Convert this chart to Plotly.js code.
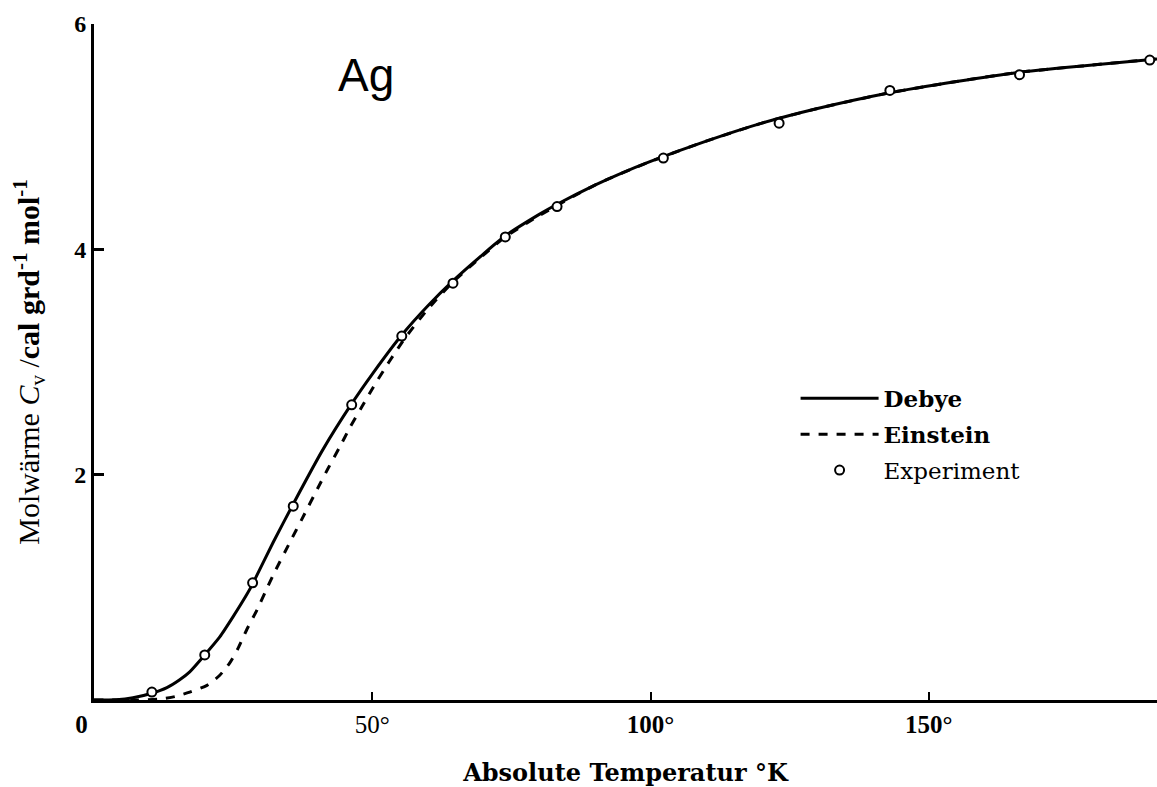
<!DOCTYPE html>
<html>
<head>
<meta charset="utf-8">
<script src="https://cdn.plot.ly/plotly-3.0.1.min.js"></script>
<style>html,body{margin:0;padding:0;background:#fff;}#chart{width:1157px;height:787px;}</style>
</head>
<body>
<div id="chart"></div>
<script>
// Debye curve
const debyeT = [0, 4, 7, 10.4, 13.1, 15.4, 17.2, 19.9, 22.6, 25.0, 27.5, 28.6, 32.2, 35.8, 41.1, 46.3, 50.1, 55.3, 60, 64.5, 70, 73.9, 80, 83.2, 90, 94.5, 100, 110, 120, 130, 143, 155, 166, 178, 191];
const debyeCv = [0, 0.003, 0.02, 0.06, 0.11, 0.18, 0.25, 0.40, 0.56, 0.74, 0.94, 1.04, 1.40, 1.74, 2.22, 2.63, 2.90, 3.24, 3.50, 3.72, 3.96, 4.12, 4.31, 4.40, 4.57, 4.67, 4.78, 4.96, 5.12, 5.25, 5.39, 5.49, 5.57, 5.63, 5.69];
// Einstein curve
const einsteinT = [0, 8, 12, 14.5, 17.2, 20.3, 22.6, 24.4, 25.9, 27.5, 29.3, 30.7, 32.2, 35.2, 37.4, 40.2, 42.0, 44.2, 46.0, 48.1, 50.1, 53, 56, 60, 64.5, 70, 73.9, 80, 90, 100, 110, 120, 130, 143, 155, 166, 178, 191];
const einsteinCv = [0, 0.0, 0.01, 0.03, 0.07, 0.13, 0.22, 0.33, 0.46, 0.63, 0.80, 0.95, 1.11, 1.40, 1.61, 1.88, 2.05, 2.25, 2.42, 2.60, 2.77, 3.00, 3.22, 3.47, 3.71, 3.95, 4.11, 4.30, 4.57, 4.78, 4.96, 5.12, 5.25, 5.39, 5.49, 5.57, 5.63, 5.69];
// Experimental points
const expT = [10.4, 19.9, 28.5, 35.8, 46.3, 55.3, 64.5, 73.9, 83.2, 102.3, 123.1, 143, 166.3, 189.7];
const expCv = [0.07, 0.40, 1.04, 1.72, 2.62, 3.23, 3.70, 4.11, 4.38, 4.81, 5.12, 5.41, 5.55, 5.68];
// Tick labels
const xTickVals = [0, 50, 100, 150];
const xTickText = ["<b>0</b>\u00a0\u00a0\u00a0\u00a0", "50°", "<b>100°</b>", "<b>150°</b>"];
const yTickVals = [2, 4, 6];
const yTickText = ["<b>2</b>", "<b>4</b>", "<b>6</b>"];

const serif = "Liberation Serif, Times New Roman, serif";
const wideSerif = "DejaVu Serif, Liberation Serif, serif";

const traces = [
  {x: einsteinT, y: einsteinCv, mode: "lines", name: "<b>Einstein</b>", legendrank: 2, legendgroup: "e",
   line: {color: "#000", width: 3, dash: "dash", shape: "spline", smoothing: 0.6}},
  {x: debyeT, y: debyeCv, mode: "lines", name: "<b>Debye</b>", legendrank: 1, legendgroup: "d",
   line: {color: "#000", width: 3, shape: "spline", smoothing: 0.6}},
  {x: expT, y: expCv, mode: "markers", name: "Experiment", legendrank: 3, legendgroup: "x",
   marker: {symbol: "circle", size: 9, color: "#fff", line: {color: "#000", width: 2}}, cliponaxis: false}
];

const layout = {
  width: 1157, height: 787,
  paper_bgcolor: "#fff", plot_bgcolor: "#fff",
  margin: {l: 94, r: 0, t: 24, b: 87},
  showlegend: true,
  legend: {x: 0.66, y: 0.478, xanchor: "left", yanchor: "top", tracegroupgap: 3,
           font: {family: wideSerif, size: 23, color: "#000"}, itemwidth: 78, bgcolor: "rgba(0,0,0,0)"},
  xaxis: {range: [0, 191], showline: true, linecolor: "#000", linewidth: 3, showgrid: false, zeroline: false,
          tickmode: "array", tickvals: xTickVals, ticktext: xTickText, ticks: "inside", ticklen: 8, tickwidth: 2, tickcolor: "#000",
          tickfont: {family: serif, size: 25, color: "#000"},
          title: {text: "<b>Absolute Temperatur °K</b>", font: {family: wideSerif, size: 24, color: "#000"}, standoff: 28}},
  yaxis: {range: [0, 6], showline: true, linecolor: "#000", linewidth: 3, showgrid: false, zeroline: false,
          tickmode: "array", tickvals: yTickVals, ticktext: yTickText, ticks: "inside", ticklen: 10, tickwidth: 3, tickcolor: "#000",
          tickfont: {family: serif, size: 24, color: "#000"},
          title: {text: "Molwärme <i>C</i><sub>v</sub> /<b>cal grd<sup>-1</sup> mol<sup>-1</sup></b>", font: {family: serif, size: 30, color: "#000"}, standoff: 26}},
  annotations: [
    {x: 0.256, y: 0.925, xref: "paper", yref: "paper", xanchor: "center", yanchor: "middle", text: "Ag", showarrow: false,
     font: {family: "Liberation Sans, Arial, sans-serif", size: 46, color: "#000"}}
  ]
};

Plotly.newPlot("chart", traces, layout, {displayModeBar: false, staticPlot: true});
</script>
</body>
</html>
